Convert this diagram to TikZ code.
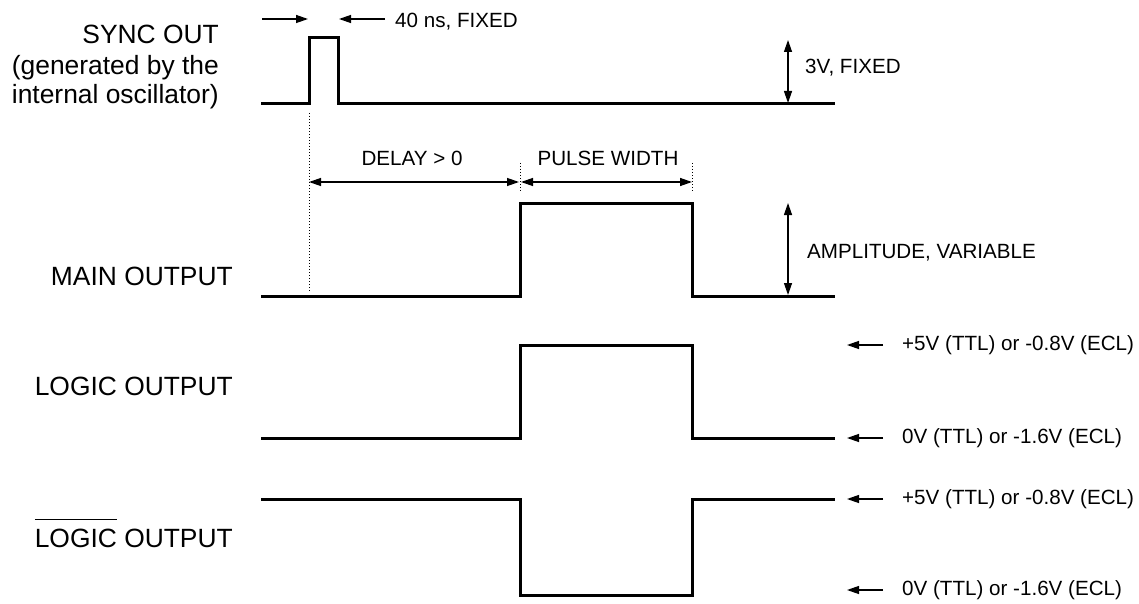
\documentclass[tikz,border=0pt]{standalone}
\usepackage{fontspec}
\setmainfont{Liberation Sans}
\usetikzlibrary{arrows.meta}
\newcommand\myovl[1]{\vbox{\hrule height 1.3pt\kern 8.5pt\hbox{#1}}}
\tikzset{
  wave/.style={line width=3pt, line join=miter},
  dim/.style={line width=1.3pt, -{Triangle[length=12pt,width=8pt]}},
  dimboth/.style={line width=1.3pt, {Triangle[length=12pt,width=8pt]}-{Triangle[length=12pt,width=8pt]}},
  guide/.style={line width=1pt, dotted},
  biglbl/.style={inner sep=0pt, font=\fontsize{26.4}{31}\selectfont},
  smalllbl/.style={inner sep=0pt, font=\fontsize{20.6}{24}\selectfont},
}
\begin{document}
\begin{tikzpicture}[x=1pt,y=-1pt]
\useasboundingbox (0,0) rectangle (1139,604);
% left labels
\node[biglbl, anchor=base east] (s1) at (219,44) {SYNC OUT};
\node[biglbl, anchor=base east] (s2) at (219,75) {(generated by the};
\node[biglbl, anchor=base east] (s3) at (219,104) {internal oscillator)};
\node[biglbl, anchor=base east] (mo) at (233,285) {MAIN OUTPUT};
\node[biglbl, anchor=base east] (lo) at (233,395) {LOGIC OUTPUT};
\node[biglbl, anchor=base east] (lb) at (233,547) {\myovl{LOGIC} OUTPUT};
% waveforms
\coordinate (a0) at (261,104); \coordinate (a1) at (309,104); \coordinate (a2) at (309,38);
\coordinate (a3) at (338,38); \coordinate (a4) at (338,104); \coordinate (a5) at (835,104);
\draw[wave] (a0) -- (a1) -- (a2) -- (a3) -- (a4) -- (a5);
\coordinate (m0) at (261,296); \coordinate (m1) at (520,296); \coordinate (m2) at (520,203);
\coordinate (m3) at (692,203); \coordinate (m4) at (692,296); \coordinate (m5) at (835,296);
\draw[wave] (m0) -- (m1) -- (m2) -- (m3) -- (m4) -- (m5);
\coordinate (l0) at (261,438); \coordinate (l1) at (520,438); \coordinate (l2) at (520,345);
\coordinate (l3) at (692,345); \coordinate (l4) at (692,438); \coordinate (l5) at (835,438);
\draw[wave] (l0) -- (l1) -- (l2) -- (l3) -- (l4) -- (l5);
\coordinate (n0) at (261,499); \coordinate (n1) at (520,499); \coordinate (n2) at (520,595);
\coordinate (n3) at (692,595); \coordinate (n4) at (692,499); \coordinate (n5) at (835,499);
\draw[wave] (n0) -- (n1) -- (n2) -- (n3) -- (n4) -- (n5);
% 40 ns arrows
\coordinate (w0) at (262,19); \coordinate (w1) at (308,19);
\coordinate (w2) at (385,19); \coordinate (w3) at (339,19);
\draw[dim] (w0) -- (w1);
\draw[dim] (w2) -- (w3);
\node[smalllbl, anchor=west] (t40) at (395,22) {40 ns, FIXED};
% 3V
\coordinate (v0) at (788,40); \coordinate (v1) at (788,103);
\draw[dimboth] (v0) -- (v1);
\node[smalllbl, anchor=west] (t3v) at (805,68) {3V, FIXED};
% guides
\coordinate (g0) at (309,113); \coordinate (g1) at (309,292);
\coordinate (g2) at (520,163); \coordinate (g3) at (520,191);
\coordinate (g4) at (692,163); \coordinate (g5) at (692,191);
\draw[guide] (g0) -- (g1);
\draw[guide] (g2) -- (g3);
\draw[guide] (g4) -- (g5);
\coordinate (d0) at (309,182); \coordinate (d1) at (519,182);
\coordinate (d2) at (521,182); \coordinate (d3) at (692,182);
\draw[dimboth] (d0) -- (d1);
\draw[dimboth] (d2) -- (d3);
\node[smalllbl] (tdel) at (412,158) {DELAY > 0};
\node[smalllbl] (tpw) at (608,158) {PULSE WIDTH};
% amplitude
\coordinate (p0) at (788,203); \coordinate (p1) at (788,295);
\draw[dimboth] (p0) -- (p1);
\node[smalllbl, anchor=west] (tamp) at (807,253) {AMPLITUDE, VARIABLE};
% logic level markers
\coordinate (k0) at (883,345); \coordinate (k1) at (847,345);
\coordinate (k2) at (883,438); \coordinate (k3) at (847,438);
\coordinate (k4) at (883,499); \coordinate (k5) at (847,499);
\coordinate (k6) at (883,590); \coordinate (k7) at (847,590);
\draw[dim] (k0) -- (k1);
\draw[dim] (k2) -- (k3);
\draw[dim] (k4) -- (k5);
\draw[dim] (k6) -- (k7);
\node[smalllbl, anchor=west] (h1) at (902,345) {+5V (TTL) or -0.8V (ECL)};
\node[smalllbl, anchor=west] (z1) at (902,438) {0V (TTL) or -1.6V (ECL)};
\node[smalllbl, anchor=west] (h2) at (902,499) {+5V (TTL) or -0.8V (ECL)};
\node[smalllbl, anchor=west] (z2) at (902,590) {0V (TTL) or -1.6V (ECL)};
\end{tikzpicture}
\end{document}
